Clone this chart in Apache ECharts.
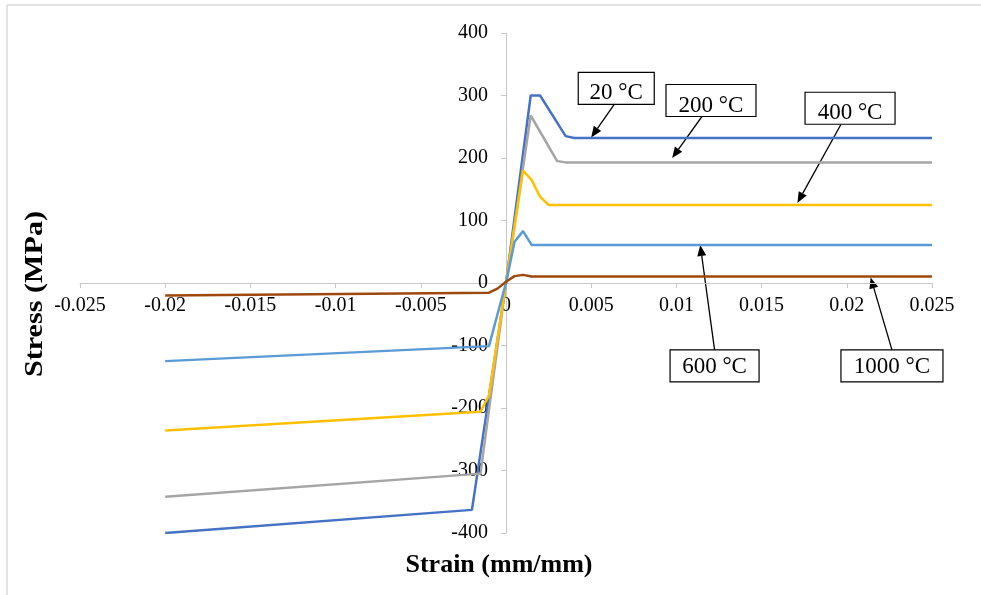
<!DOCTYPE html>
<html>
<head>
<meta charset="utf-8">
<script src="https://cdn.jsdelivr.net/npm/echarts@6/dist/echarts.min.js"></script>
<style>
    html, body { margin: 0; padding: 0; background: #fff; }
    #main { width: 981px; height: 595px; }
</style>
</head>
<body>
<div id="main"></div>
<script>
    // [strain (mm/mm), stress (MPa)]
    const curve20 = [[-0.02, -400], [-0.002, -363], [0, 0], [0.00145, 300], [0.002, 300], [0.0035, 235], [0.004, 232], [0.025, 232]];
    const curve200 = [[-0.02, -342], [-0.0015, -305], [0, 0], [0.00145, 268], [0.003, 195], [0.0035, 193], [0.025, 193]];
    const curve400 = [[-0.02, -236], [-0.0015, -206], [-0.001, -180], [0, 0], [0.001, 180], [0.0015, 165], [0.002, 138], [0.0025, 125], [0.025, 125]];
    const curve600 = [[-0.02, -125], [-0.001, -101], [-0.0005, -50], [0, 0], [0.0005, 66], [0.001, 83], [0.0015, 61], [0.025, 61]];
    const curve1000 = [[-0.02, -20], [-0.001, -15.5], [-0.0005, -9], [0, 2], [0.0005, 11], [0.001, 13], [0.0015, 10.5], [0.025, 10.5]];

    const seriesNames = ["20 °C", "200 °C", "400 °C", "600 °C", "1000 °C"];
    const seriesData = [curve20, curve200, curve400, curve600, curve1000];
    const seriesColors = ["#4472C4", "#A5A5A5", "#FFC000", "#5B9BD5", "#9E480E"];

    // axis ranges / tick steps
    const xMin = -0.025, xMax = 0.025, xStep = 0.005;
    const yMin = -400, yMax = 400, yStep = 100;

    // callout boxes: arrow tip and box centre in data units
    const notes = [
        { text: "20 °C",   tip: [0.005, 233],  box: [0.00647, 311.5], w: 76,  h: 32, dx: -2, side: "bottom", dy: 5 },
        { text: "200 °C",  tip: [0.00975, 200], box: [0.01203, 292],  w: 90,  h: 32, dx: -9, side: "bottom", dy: 5 },
        { text: "400 °C",  tip: [0.0171, 128],  box: [0.02019, 279.6], w: 90, h: 32, dx: -9, side: "bottom", dy: 5 },
        { text: "600 °C",  tip: [0.0114, 61],   box: [0.01224, -132.6], w: 89, h: 32, dx: 0, side: "top", dy: 1.5 },
        { text: "1000 °C", tip: [0.0214, 9],    box: [0.02265, -132.6], w: 102, h: 32, dx: 0, side: "top", dy: 1.5 }
    ];

    const font = "Liberation Serif";
    const grid = { left: 80, right: 49, top: 33, bottom: 62 };
    const gridW = 981 - grid.left - grid.right, gridH = 595 - grid.top - grid.bottom;
    // axes cross at (0,0): shift them in from the grid edges
    const xAxisOffset = -gridH * (0 - yMin) / (yMax - yMin);
    const yAxisOffset = -gridW * (0 - xMin) / (xMax - xMin);

    const chart = echarts.init(document.getElementById("main"));

    chart.setOption({
        animation: false,
        backgroundColor: "#fff",
        grid: Object.assign({ containLabel: false, outerBoundsMode: "none" }, grid),
        xAxis: {
            type: "value",
            position: "bottom",
            offset: xAxisOffset,
            min: xMin, max: xMax, interval: xStep,
            axisLine: { onZero: false, lineStyle: { color: "#C8C8C8", width: 1 } },
            axisTick: { show: true, inside: false, length: 5, lineStyle: { color: "#C8C8C8" } },
            splitLine: { show: false },
            axisLabel: {
                margin: 13, color: "#000", fontFamily: font, fontSize: 20,
                formatter: v => String(parseFloat(v.toFixed(3)))
            }
        },
        yAxis: {
            type: "value",
            position: "left",
            offset: yAxisOffset,
            min: yMin, max: yMax, interval: yStep,
            axisLine: { show: true, onZero: false, lineStyle: { color: "#C8C8C8", width: 1 } },
            axisTick: { show: true, inside: false, length: 5, lineStyle: { color: "#C8C8C8" } },
            splitLine: { show: false },
            axisLabel: { margin: 18, color: "#000", fontFamily: font, fontSize: 20 }
        },
        series: seriesData.map((d, i) => ({
            name: seriesNames[i],
            type: "line",
            data: d,
            showSymbol: false,
            symbol: "none",
            lineStyle: { color: seriesColors[i], width: 2.5 },
            itemStyle: { color: seriesColors[i] }
        }))
    });

    // titles, frame and callouts go on top as graphics
    const px = p => chart.convertToPixel({ gridIndex: 0 }, p);
    const g = [
        { type: "line", shape: { x1: 7, y1: 5, x2: 981, y2: 5 }, style: { stroke: "#D9D9D9", lineWidth: 1.5 } },
        { type: "line", shape: { x1: 7, y1: 5, x2: 7, y2: 595 }, style: { stroke: "#D9D9D9", lineWidth: 1.5 } },
        {
            type: "text", x: 499, y: 565,
            style: { text: "Strain (mm/mm)", font: "bold 26px \"" + font + "\"", fill: "#000", align: "center", verticalAlign: "middle" }
        },
        {
            // the reference title is stretched a little along its length
            type: "text", x: 35, y: 294, rotation: Math.PI / 2, scaleX: 1.16,
            style: { text: "Stress (MPa)", font: "bold 26px \"" + font + "\"", fill: "#000", align: "center", verticalAlign: "middle" }
        }
    ];

    notes.forEach(n => {
        const tip = px(n.tip), c = px(n.box);
        const bx = c[0] - n.w / 2, by = c[1] - n.h / 2;
        const tail = [c[0] + n.dx, n.side === "bottom" ? by + n.h : by];
        const ang = Math.atan2(tip[1] - tail[1], tip[0] - tail[0]);
        const L = 11, W = 4.5;
        const base = [tip[0] - L * Math.cos(ang), tip[1] - L * Math.sin(ang)];
        const nx = -Math.sin(ang), ny = Math.cos(ang);
        g.push({ type: "line", shape: { x1: tail[0], y1: tail[1], x2: base[0], y2: base[1] }, style: { stroke: "#000", lineWidth: 1.3 } });
        g.push({
            type: "polygon",
            shape: { points: [tip, [base[0] + nx * W, base[1] + ny * W], [base[0] - nx * W, base[1] - ny * W]] },
            style: { fill: "#000" }
        });
        g.push({ type: "rect", shape: { x: bx, y: by, width: n.w, height: n.h }, style: { fill: "#fff", stroke: "#000", lineWidth: 1.2 } });
        g.push({
            type: "text", x: c[0], y: c[1] + n.dy,
            style: { text: n.text, font: "23px \"" + font + "\"", fill: "#000", align: "center", verticalAlign: "middle" }
        });
    });

    chart.setOption({ graphic: g });
</script>
</body>
</html>
